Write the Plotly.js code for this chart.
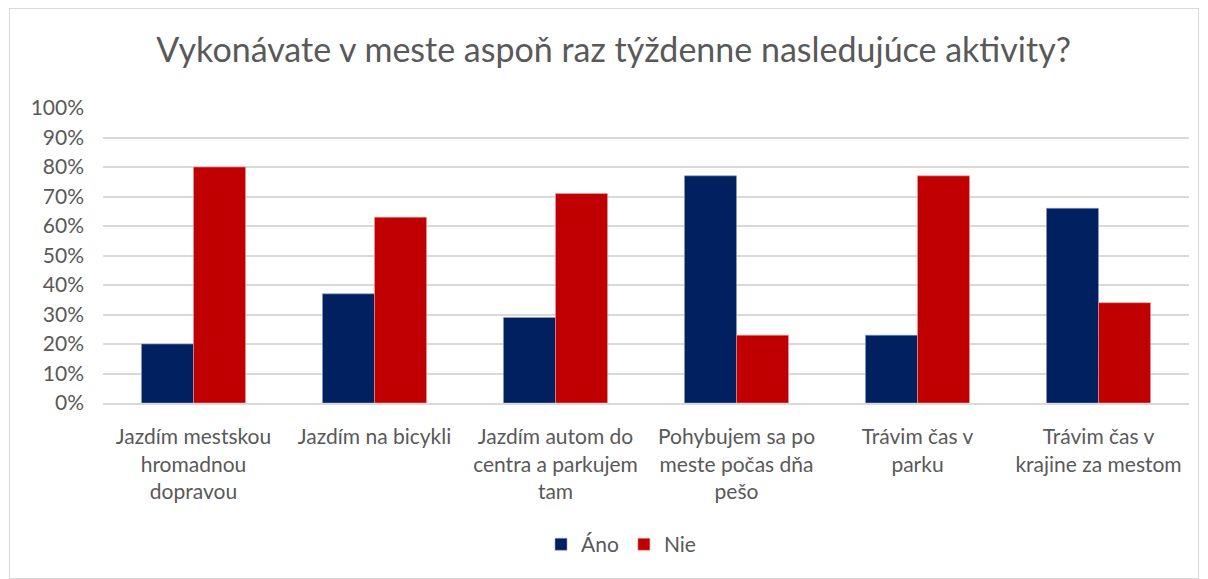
<!DOCTYPE html>
<html>
<head>
<meta charset="utf-8">
<script src="https://cdn.plot.ly/plotly-3.0.1.min.js"></script>
<style>
html,body{margin:0;padding:0;background:#fff;}
#frame{position:absolute;left:9px;top:8px;width:1190px;height:571px;border:1px solid #D9D9D9;box-sizing:border-box;}
#chart{position:absolute;left:0;top:0;width:1208px;height:579px;}
</style>
</head>
<body>
<div id="frame"></div>
<div id="chart"></div>
<script>
const categories = [
  "Jazdím mestskou<br>hromadnou<br>dopravou",
  "Jazdím na bicykli",
  "Jazdím autom do<br>centra a parkujem<br>tam",
  "Pohybujem sa po<br>meste počas dňa<br>pešo",
  "Trávim čas v<br>parku",
  "Trávim čas v<br>krajine za mestom"
];
const anoValues = [20, 37, 29, 77, 23, 66];
const nieValues = [80, 63, 71, 23, 77, 34];
const seriesNames = ["Áno", "Nie"];
const yTickVals = [0,10,20,30,40,50,60,70,80,90,100];
const yTickText = ["0%","10%","20%","30%","40%","50%","60%","70%","80%","90%","100%"];
const titleText = "Vykonávate v meste aspoň raz týždenne nasledujúce aktivity?";

const font = "Lato, 'Open Sans', sans-serif";
const traces = [
  {type:'bar', name: seriesNames[0], x: categories, y: anoValues, marker:{color:'#002060', line:{color:'#8EA0C8', width:0.6}}},
  {type:'bar', name: seriesNames[1], x: categories, y: nieValues, marker:{color:'#C00000', line:{color:'#E8A0A0', width:0.6}}}
];
const layout = {
  width:1208, height:579,
  paper_bgcolor:'rgba(0,0,0,0)', plot_bgcolor:'rgba(0,0,0,0)',
  margin:{l:103, r:19, t:108, b:176},
  barmode:'group', bargap:0.425, bargroupgap:0,
  font:{family:font, color:'#595959', size:21},
  title:{text:titleText, x:0.508, xanchor:'center', y:0.913, yanchor:'middle', font:{size:34, color:'#595959', family:font}},
  xaxis:{tickfont:{size:21, color:'#595959'}, showline:true, linecolor:'#D9D9D9', linewidth:2, ticks:'', ticklabelstandoff:14, automargin:false},
  yaxis:{range:[0,100], tickvals:yTickVals, ticktext:yTickText, tickfont:{size:21, color:'#595959'}, gridcolor:'#D9D9D9', gridwidth:2, zeroline:false, ticks:'', ticklabelstandoff:18, automargin:false},
  legend:{orientation:'h', x:0.477, xanchor:'center', y:-0.48, yanchor:'middle', font:{size:21, color:'#595959'}, itemwidth:20, traceorder:'normal'},
  showlegend:true
};
Plotly.newPlot('chart', traces, layout, {displayModeBar:false, staticPlot:true});
</script>
</body>
</html>
